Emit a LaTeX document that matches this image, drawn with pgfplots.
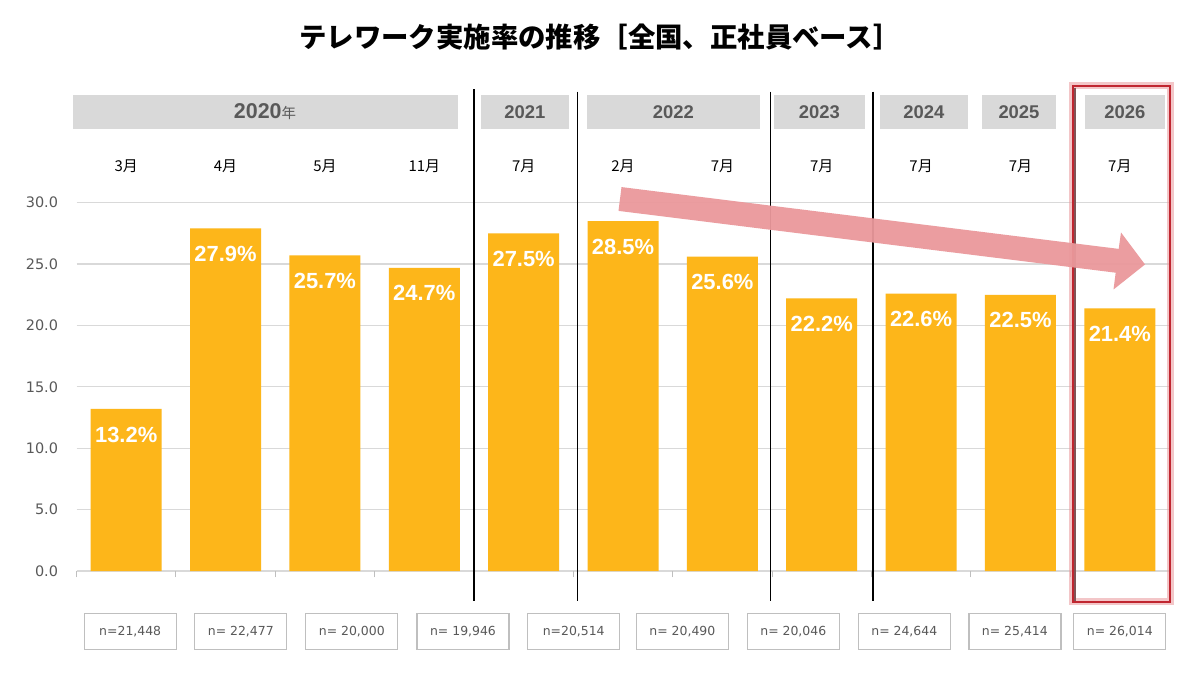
\documentclass[border=0pt]{standalone}
\usepackage{fontspec}
\setmainfont{Liberation Sans}
\newfontfamily\jp{Noto Sans CJK JP}
\newfontfamily\dv{DejaVu Sans}
\usepackage{pgfplots}
\usepackage{pgfplotstable}
\pgfplotsset{compat=1.18}

\definecolor{barcol}{RGB}{253,182,26}
\definecolor{hdr}{RGB}{217,217,217}
\definecolor{txtgray}{RGB}{89,89,89}
\definecolor{gridgray}{RGB}{217,217,217}
\definecolor{arrowpink}{RGB}{234,152,155}
\definecolor{boxred}{RGB}{192,38,48}
\definecolor{nbox}{RGB}{191,191,191}

% telework rate, whole country, regular employees (%)
\pgfplotstableread{
x val
0 13.2
1 27.9
2 25.7
3 24.7
4 27.5
5 28.5
6 25.6
7 22.2
8 22.6
9 22.5
10 21.4
}\ratetable

\begin{document}
\begin{tikzpicture}
\fill[white] (0,0) rectangle (1200bp,675bp);
\path[use as bounding box] (0,0) rectangle (1200bp,675bp);

\begin{axis}[
    at={(76.5bp,103.9bp)}, anchor=south west,
    scale only axis,
    width=1093bp, height=368.4bp,
    xmin=-0.5, xmax=10.5,
    ymin=0, ymax=30,
    clip=false,
    axis line style={draw=none},
    /pgf/number format/assume math mode=true,
    ybar, bar width=71bp,
    ytick={0,5,...,30},
    ytick style={draw=none},
    yticklabel style={font=\dv\fontsize{14.5}{16}\selectfont, text=txtgray,
        xshift=-15bp,
        /pgf/number format/fixed, /pgf/number format/fixed zerofill,
        /pgf/number format/precision=1},
    ymajorgrids,
    grid style={gridgray, line width=1.2bp},
    xtick={0,...,10},
    xticklabels={3月,4月,5月,11月,7月,2月,7月,7月,7月,7月,7月},
    xticklabel pos=upper,
    xtick pos=lower,
    xtick style={draw=none},
    xticklabel style={font=\jp\fontsize{15}{16}\selectfont, text=black,
        anchor=center, yshift=32bp},
    extra x ticks={-0.5,0.5,...,10.5},
    extra x tick labels={},
    extra x tick style={xtick style={draw=nbox, line width=1bp},
        major tick length=6bp, tick align=outside},
    nodes near coords={\pgfmathprintnumber[fixed,fixed zerofill,precision=1]{\pgfplotspointmeta}\%},
    nodes near coords style={font=\bfseries\fontsize{22}{24}\selectfont,
        text=white, anchor=center, yshift=-25.5bp},
]
\addplot[fill=barcol, draw=none] table[x=x, y=val] {\ratetable};
\end{axis}

\begin{scope}[x=1bp, y=-1bp, yshift=675bp]
  % title
  \node at (600,37.5) {\jp\bfseries\fontsize{27.5}{30}\selectfont テレワーク実施率の推移［全国、正社員ベース］};

  % year headers
  \fill[hdr] (72.7,95) rectangle (458,128.7);
  \fill[hdr] (481,95) rectangle (568.7,128.7);
  \fill[hdr] (587,95) rectangle (759.6,128.7);
  \fill[hdr] (774,95) rectangle (864.8,128.7);
  \fill[hdr] (879.8,95) rectangle (967.8,128.7);
  \fill[hdr] (982.3,95) rectangle (1055.8,128.7);
  \fill[hdr] (1085,95) rectangle (1164.5,128.7);
  \node[text=txtgray] at (265,111.8) {\bfseries\fontsize{21.5}{24}\selectfont 2020{\jp\mdseries\fontsize{14.5}{16}\selectfont 年}};
  \foreach \cx/\yr in {524.9/2021, 673.3/2022, 819.4/2023, 923.8/2024, 1019/2025, 1124.8/2026}
    \node[text=txtgray] at (\cx,111.8) {\bfseries\fontsize{18.5}{20}\selectfont \yr};

  % separators
  \draw[black, line width=1.3bp] (474,89.5) -- (474,601);
  \foreach \lx in {577.5, 770.3, 872.9}
    \draw[black, line width=1.3bp] (\lx,91.7) -- (\lx,601);
  \draw[black, line width=1.3bp] (1075,88) -- (1075,601);

  % highlight box
  \draw[arrowpink, line width=7bp, opacity=0.55] (1072.5,86) rectangle (1170,602);
  \draw[boxred, line width=2bp] (1072.5,86) rectangle (1170,602);

  % trend arrow
  \fill[arrowpink, opacity=0.95] (621.5,187.1) -- (1118.7,248.9) -- (1121,232.5)
     -- (1145,264.5) -- (1113.5,289.5) -- (1115.7,272.7) -- (618.5,210.9) -- cycle;

  % sample sizes
  \foreach \bx/\lab in {84.2/{n=21,448}, 194.8/{n= 22,477}, 305.8/{n= 20,000},
      417/{n= 19,946}, 527.7/{n=20,514}, 636.4/{n= 20,490}, 747.3/{n= 20,046},
      858.3/{n= 24,644}, 968.9/{n= 25,414}, 1073.8/{n= 26,014}} {
    \draw[nbox, line width=1.3bp, fill=white] (\bx,613.3) rectangle ++(92,36);
    \node[text=txtgray, font=\dv\fontsize{12.5}{14}\selectfont] at ([xshift=46bp]\bx,631.3) {\lab};
  }
\end{scope}
\end{tikzpicture}
\end{document}
